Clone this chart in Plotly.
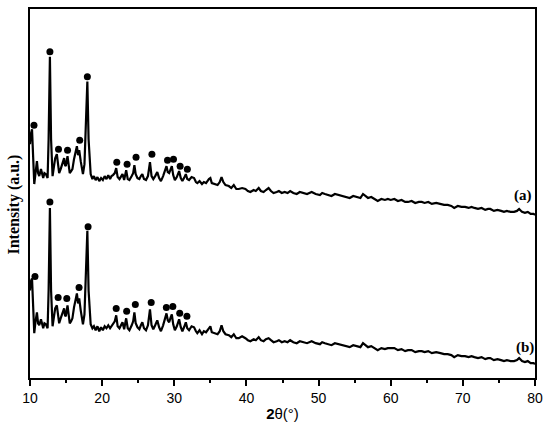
import plotly.graph_objects as go

# 2-theta grid (degrees)
two_theta = [
    10.00, 10.10, 10.28, 10.45, 10.59, 10.75, 10.96, 11.12, 11.28, 11.52, 11.68, 11.83, 12.00, 12.20, 12.44,
    12.58, 12.76, 12.92, 13.13, 13.30, 13.49, 13.72, 13.88, 14.04, 14.25, 14.50, 14.73, 14.85, 14.96, 15.20,
    15.35, 15.51, 15.70, 15.88, 16.10, 16.34, 16.50, 16.66, 16.82, 17.03, 17.20, 17.34, 17.55, 17.78, 17.95,
    18.12, 18.30, 18.41, 18.65, 18.86, 19.10, 19.35, 19.60, 19.85, 20.10, 20.35, 20.60, 20.85, 21.10, 21.30,
    21.50, 21.75, 21.95, 22.15, 22.40, 22.60, 22.82, 23.05, 23.33, 23.55, 23.78, 24.10, 24.30, 24.47, 24.65,
    24.90, 25.16, 25.37, 25.57, 25.80, 26.08, 26.35, 26.63, 26.85, 27.09, 27.35, 27.64, 27.90, 28.15, 28.45,
    28.75, 28.92, 29.10, 29.29, 29.50, 29.66, 29.85, 30.08, 30.35, 30.67, 30.90, 31.12, 31.35, 31.60, 31.80,
    32.05, 32.40, 32.74, 33.00, 33.19, 33.50, 33.84, 34.10, 34.40, 34.80, 35.00, 35.20, 35.60, 36.00, 36.30,
    36.55, 36.80, 37.10, 37.56, 37.90, 38.25, 38.60, 38.94, 39.40, 39.86, 40.20, 40.55, 41.00, 41.30, 41.70,
    42.00, 42.38, 42.70, 43.07, 43.40, 43.76, 44.20, 44.50, 44.90, 45.30, 45.70, 46.06, 46.50, 46.97, 47.40,
    47.90, 48.40, 49.04, 49.60, 50.19, 50.50, 50.88, 51.30, 51.79, 52.26, 52.80, 53.40, 53.80, 54.32, 54.80,
    55.47, 55.80, 56.16, 56.50, 56.85, 57.30, 57.70, 58.20, 58.70, 59.20, 59.60, 60.00, 60.50, 61.00, 61.50,
    62.00, 62.40, 62.90, 63.40, 63.90, 64.30, 64.70, 65.20, 65.70, 66.30, 66.90, 67.40, 67.90, 68.40, 68.80,
    69.30, 69.80, 70.30, 70.80, 71.20, 71.60, 72.10, 72.60, 73.10, 73.50, 73.80, 74.30, 74.80, 75.30, 75.70,
    76.10, 76.60, 77.10, 77.50, 77.80, 78.20, 78.60, 79.00, 79.40, 79.80, 80.00,
]

# pattern (a) intensity (a.u.)
intensity_a = [
    85, 95, 100, 68, 45, 55, 68, 56, 53, 60, 54, 51, 56, 55, 51,
    90, 173, 90, 53, 62, 71, 75, 65, 56, 60, 66, 71, 64, 63, 73,
    62, 56, 58, 60, 70, 78, 83, 74, 79, 68, 60, 55, 65, 110, 148,
    90, 60, 55, 50, 53, 49, 52, 48, 51, 49, 53, 50, 54, 50, 53,
    54, 56, 61, 52, 50, 53, 55, 49, 59, 50, 49, 53, 56, 64, 55,
    51, 50, 53, 55, 50, 49, 53, 67, 53, 50, 53, 57, 51, 48, 53,
    59, 63, 57, 56, 60, 63, 54, 49, 52, 58, 51, 48, 51, 55, 50,
    49, 52, 51, 47, 46, 48, 45, 47, 46, 50, 51, 46, 45, 44, 47,
    52, 47, 44, 43, 41, 44, 40, 40, 41, 40, 38, 37, 39, 38, 41,
    38, 37, 39, 41, 38, 36, 37, 38, 36, 37, 36, 38, 36, 35, 37,
    36, 35, 37, 35, 34, 36, 35, 34, 33, 35, 34, 33, 32, 31, 33,
    32, 31, 35, 33, 31, 32, 30, 28, 30, 29, 30, 29, 30, 28, 29,
    27, 27, 28, 26, 27, 27, 26, 27, 25, 26, 25, 24, 24, 23, 21,
    23, 22, 22, 21, 22, 21, 20, 21, 19, 20, 20, 18, 19, 18, 17,
    18, 17, 17, 18, 20, 17, 16, 17, 15, 15, 14,
]

# pattern (b) intensity (a.u.)
intensity_b = [
    88, 97, 100, 70, 45, 56, 66, 55, 53, 59, 53, 50, 55, 54, 50,
    88, 171, 88, 52, 61, 70, 73, 64, 55, 60, 65, 70, 63, 62, 73,
    61, 55, 57, 60, 71, 80, 85, 75, 80, 68, 59, 54, 64, 108, 148,
    88, 59, 54, 50, 52, 48, 52, 47, 51, 48, 52, 50, 53, 50, 52,
    54, 57, 63, 52, 50, 53, 56, 49, 60, 50, 48, 53, 57, 66, 55,
    51, 49, 53, 56, 50, 48, 53, 69, 53, 49, 53, 58, 51, 47, 53,
    60, 65, 58, 56, 61, 64, 54, 48, 52, 59, 51, 47, 51, 56, 50,
    48, 52, 51, 47, 45, 48, 44, 47, 46, 50, 52, 46, 45, 44, 47,
    53, 47, 44, 43, 41, 44, 40, 40, 42, 40, 38, 37, 39, 38, 41,
    38, 37, 39, 40, 38, 36, 37, 38, 36, 37, 36, 38, 36, 35, 37,
    36, 35, 37, 35, 34, 36, 35, 34, 33, 35, 34, 33, 32, 31, 33,
    32, 31, 35, 33, 31, 32, 30, 28, 30, 29, 30, 30, 30, 28, 29,
    27, 28, 28, 26, 27, 27, 26, 27, 25, 26, 25, 24, 24, 23, 21,
    23, 22, 22, 21, 22, 21, 20, 21, 19, 20, 20, 18, 19, 18, 17,
    18, 17, 17, 18, 20, 17, 16, 17, 15, 15, 14,
]

# peak markers (●)
peaks_a_2theta = [10.55, 12.76, 13.95, 15.20, 16.89, 17.95, 22.03, 23.46, 24.70, 26.90, 29.06, 29.89, 30.81, 31.81]
peaks_a_height = [104, 178, 80, 79, 89, 153, 67, 65, 72, 75, 69, 70, 63, 60]
peaks_b_2theta = [10.69, 12.76, 13.90, 15.10, 16.80, 18.05, 21.95, 23.40, 24.60, 26.80, 28.90, 29.80, 30.75, 31.75]
peaks_b_height = [102, 177, 81, 80, 91, 152, 70, 67, 74, 76, 71, 72, 65, 62]

x_ticks = [10, 20, 30, 40, 50, 60, 70, 80]
labels = ["(a)", "(b)"]

OFFSET_A = 150  # vertical stacking offset of pattern (a)

ya = [v + OFFSET_A for v in intensity_a]
pa = [v + OFFSET_A for v in peaks_a_height]

fig = go.Figure()
fig.add_trace(go.Scatter(x=two_theta, y=ya, mode="lines",
                         line=dict(color="black", width=2.2), showlegend=False))
fig.add_trace(go.Scatter(x=two_theta, y=intensity_b, mode="lines",
                         line=dict(color="black", width=2.2), showlegend=False))
fig.add_trace(go.Scatter(x=peaks_a_2theta, y=pa, mode="markers",
                         marker=dict(color="black", size=7), showlegend=False))
fig.add_trace(go.Scatter(x=peaks_b_2theta, y=peaks_b_height, mode="markers",
                         marker=dict(color="black", size=7), showlegend=False))

fig.add_annotation(x=78.35, y=intensity_a[-6] + OFFSET_A + 16, text="<b>" + labels[0] + "</b>",
                   showarrow=False, font=dict(family="Liberation Serif", size=15, color="black"))
fig.add_annotation(x=78.6, y=intensity_b[-6] + 14, text="<b>" + labels[1] + "</b>",
                   showarrow=False, font=dict(family="Liberation Serif", size=15, color="black"))

fig.add_annotation(xref="paper", yref="paper", x=0, y=0.47, xshift=-16,
                   xanchor="center", yanchor="middle",
                   text="<b>Intensity (a.u.)</b>", textangle=-90, showarrow=False,
                   font=dict(family="Liberation Serif", size=16, color="black"))

fig.update_layout(
    width=550, height=430,
    margin=dict(l=30, r=12, t=7, b=52),
    plot_bgcolor="white", paper_bgcolor="white",
    xaxis=dict(range=[10, 80], tickvals=x_ticks, ticks="outside", ticklen=6, tickwidth=1.5,
               tickcolor="black", showline=True, linecolor="black", linewidth=1.5, mirror=True,
               showgrid=False, zeroline=False,
               tickfont=dict(family="Liberation Sans", size=14, color="black"),
               minor=dict(dtick=5, ticks="outside", ticklen=3, tickwidth=1.5, tickcolor="black"),
               title=dict(text="<b>2</b>θ(°)", standoff=4,
                          font=dict(family="Liberation Sans", size=15, color="black"))),
    yaxis=dict(range=[0, 371], showticklabels=False, ticks="", showline=True, linecolor="black",
               linewidth=1.5, mirror=True, showgrid=False, zeroline=False),
)

fig.write_html("out.html", config={"displayModeBar": False},
               post_script="document.body.style.margin='0';")
